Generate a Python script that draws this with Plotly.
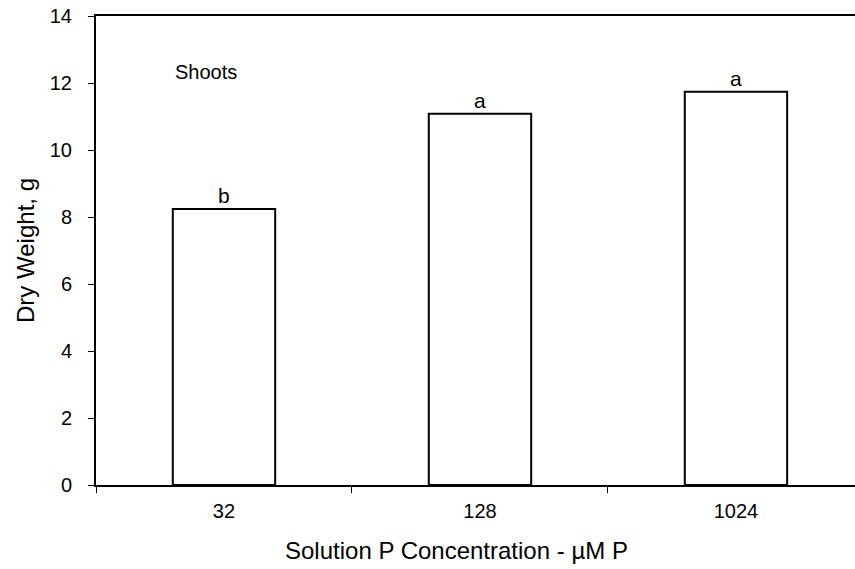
import plotly.graph_objects as go

categories = ["32", "128", "1024"]
dry_weight = [8.24, 11.08, 11.74]
letters = ["b", "a", "a"]

FONT = "Liberation Sans, Arial, sans-serif"

fig = go.Figure()
fig.add_trace(go.Bar(
    x=categories, y=dry_weight, width=0.4,
    marker=dict(color="white", line=dict(color="black", width=2)),
    showlegend=False,
))

for i, (v, t) in enumerate(zip(dry_weight, letters)):
    fig.add_annotation(x=i, y=v, xref="x", yref="y", text=t, showarrow=False,
                       xanchor="center", yanchor="bottom", yshift=0,
                       font=dict(family=FONT, size=21, color="black"))

fig.add_annotation(xref="paper", yref="paper", x=(206 - 96) / 759, y=(485 - 72) / 469,
                   xanchor="center", yanchor="middle",
                   text="Shoots", showarrow=False,
                   font=dict(family=FONT, size=20, color="black"))

# x-axis title (offset slightly left as in the original)
fig.add_annotation(xref="paper", yref="paper", x=(456 - 96) / 759, y=(485 - 550) / 469,
                   xanchor="center", yanchor="middle",
                   text="Solution P Concentration - µM P", showarrow=False,
                   font=dict(family=FONT, size=24, color="black"))

fig.update_layout(
    width=855, height=569,
    margin=dict(l=96, r=0, t=16, b=84),
    plot_bgcolor="white", paper_bgcolor="white",
    font=dict(family=FONT, size=20, color="black"),
)
fig.update_xaxes(
    type="category", range=[-0.5, 2.465],
    showline=True, linecolor="black", linewidth=2, mirror=True,
    ticks="outside", ticklen=6, tickwidth=1, tickcolor="black",
    tickson="boundaries", ticklabelstandoff=7,
    showgrid=False, zeroline=False,
)
fig.update_yaxes(
    range=[0, 14], tickvals=[0, 2, 4, 6, 8, 10, 12, 14],
    showline=True, linecolor="black", linewidth=2,
    ticks="outside", ticklen=6, tickwidth=1, tickcolor="black",
    ticklabelstandoff=12,
    showgrid=False, zeroline=False,
    title=dict(text="Dry Weight, g", font=dict(size=24), standoff=8),
)

fig.write_html("out.html")
